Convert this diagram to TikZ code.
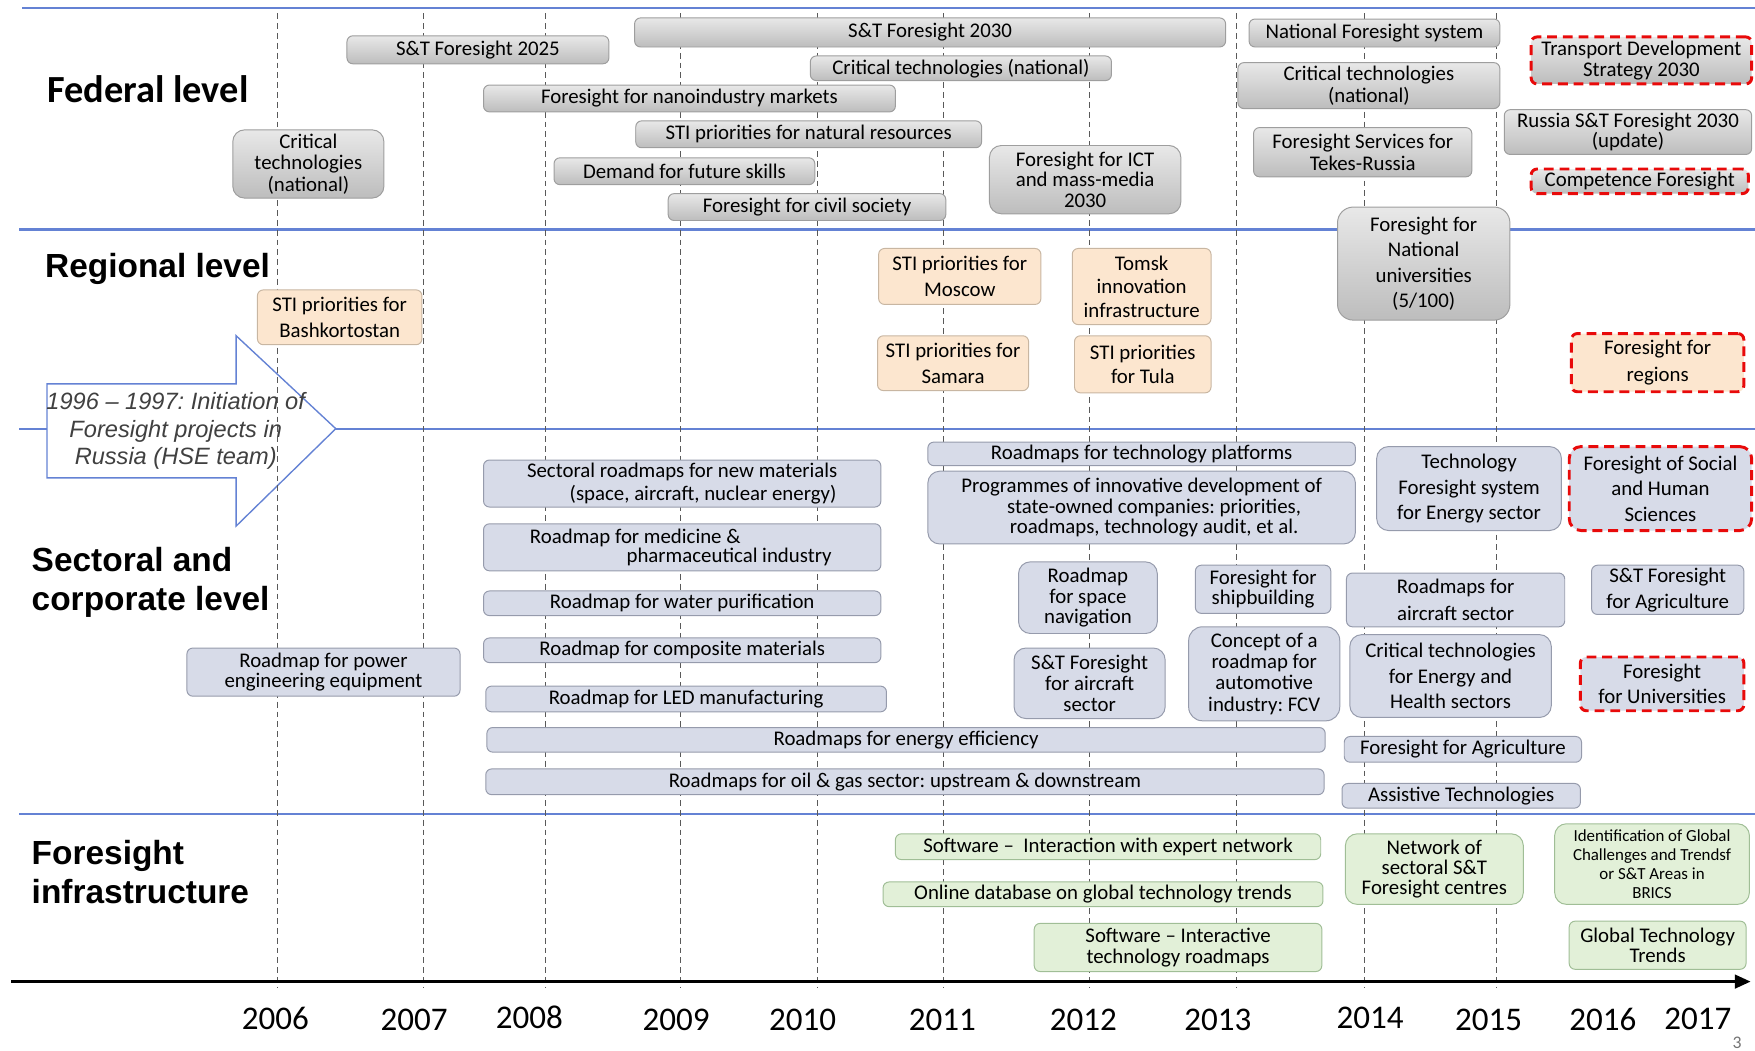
\documentclass[tikz,border=0pt]{standalone}
\usepackage{fontspec}
\setmainfont{Carlito}
\newfontfamily\arialf[Ligatures=TeX]{Liberation Sans}
\usetikzlibrary{arrows.meta}
\frenchspacing
\definecolor{lineblue}{RGB}{100,130,212}
\definecolor{regfill}{RGB}{252,230,207}
\definecolor{regdraw}{RGB}{200,182,162}
\definecolor{secfill}{RGB}{215,219,232}
\definecolor{secdraw}{RGB}{150,155,172}
\definecolor{inffill}{RGB}{226,240,216}
\definecolor{infdraw}{RGB}{160,190,150}
\definecolor{futred}{RGB}{232,10,10}
\newcommand\fs[1]{\fontsize{10.6}{#1}\selectfont}
\newcommand\bx[7]{\node[#1, minimum width={(#4-#2)*0.02cm}, minimum height={(#5-#3)*0.02cm}] (#6) at ({(#2+#4)/2},{(#3+#5)/2}) {#7};}
\tikzset{
  base/.style={inner sep=0pt, align=center, rounded corners=3pt, line width=0.5pt, font=\fs{11}},
  fed/.style={base, draw=black!38, top color=black!9, bottom color=black!26},
  reg/.style={base, draw=regdraw, fill=regfill},
  sec/.style={base, draw=secdraw, fill=secfill},
  inf/.style={base, draw=infdraw, fill=inffill},
  future/.style={draw=futred, line width=1.5pt, dash pattern=on 5pt off 3pt},
  sepline/.style={lineblue, line width=1.1pt},
  yearline/.style={black!65, line width=0.45pt, dash pattern=on 3pt off 2pt},
  heading/.style={anchor=west, align=left, inner sep=0pt, font=\arialf\bfseries\fontsize{17}{19.8}\selectfont},
  yearlbl/.style={font=\fontsize{16.8}{17}\selectfont}
}
\begin{document}
\begin{tikzpicture}[x=0.02cm, y=-0.02cm]
\useasboundingbox (0,0) rectangle (1568,939);
% separator lines
\coordinate (l1a) at (20,7);   \coordinate (l1b) at (1568,7);
\coordinate (l2a) at (17,205); \coordinate (l2b) at (1568,205);
\coordinate (l3a) at (17,383); \coordinate (l3b) at (1568,383);
\coordinate (l4a) at (17,727); \coordinate (l4b) at (1568,727);
\draw[sepline] (l1a) -- (l1b);
\draw[sepline] (l2a) -- (l2b);
\draw[sepline] (l3a) -- (l3b);
\draw[sepline] (l4a) -- (l4b);
% initiation arrow
\draw[lineblue, line width=0.7pt, fill=white] (42,343) -- (211,343) -- (211,300) -- (300,383) -- (211,470) -- (211,427) -- (42,427) -- cycle;
\node[align=center, text=black!75, font=\arialf\itshape\fontsize{12}{14.2}\selectfont] (init) at (157,385) {1996 – 1997: Initiation of\\Foresight projects in\\Russia (HSE team)};
% year lines
\foreach \xx in {248,378,487,608,730,843,973,1105,1219,1337}
  \draw[yearline] (\xx,12) -- (\xx,882);
% axis
\coordinate (axL) at (10,877); \coordinate (axR) at (1564,877);
\draw[black, line width=1.2pt, -{Triangle[length=8pt,width=7pt]}] (axL) -- (axR);
% years
\node[yearlbl] (y06) at (246,910) {2006};
\node[yearlbl] (y07) at (370,911) {2007};
\node[yearlbl] (y08) at (473,909) {2008};
\node[yearlbl] (y09) at (604,911) {2009};
\node[yearlbl] (y10) at (717,911) {2010};
\node[yearlbl] (y11) at (842,911) {2011};
\node[yearlbl] (y12) at (968,911) {2012};
\node[yearlbl] (y13) at (1088,911) {2013};
\node[yearlbl] (y14) at (1224,909) {2014};
\node[yearlbl] (y15) at (1330,911) {2015};
\node[yearlbl] (y16) at (1432,911) {2016};
\node[yearlbl] (y17) at (1517,910) {2017};
\node[text=black!55, font=\fontsize{9}{10}\selectfont] (pg) at (1552,932) {3};
% headings
\node[anchor=west, inner sep=0pt, font=\bfseries\fontsize{19.5}{20}\selectfont] (hfed) at (42,80) {Federal level};
\node[heading] (hreg) at (40,240) {Regional level};
\node[heading] (hsec) at (28,520) {Sectoral and\\corporate level};
\node[heading] (hinf) at (28,779) {Foresight\\infrastructure};
% federal
\bx{fed}{310}{32}{544}{57}{f1}{S\&T Foresight 2025}
\bx{fed}{567}{16}{1095}{42}{f2}{S\&T Foresight 2030}
\bx{fed}{724}{50}{993}{72}{f3}{Critical technologies (national)}
\bx{fed}{432}{76}{800}{100}{f4}{Foresight for nanoindustry markets}
\bx{fed}{568}{108}{877}{132}{f5}{STI priorities for natural resources}
\bx{fed}{495}{141}{728}{165}{f6}{Demand for future skills}
\bx{fed}{597}{173}{845}{197}{f7}{Foresight for civil society}
\bx{fed, rounded corners=6pt, font=\fs{10.8}}{208}{116}{343}{177}{f8}{Critical\\technologies\\(national)}
\bx{fed, rounded corners=6pt, font=\fs{10.3}}{884}{130}{1055}{191}{f9}{Foresight for ICT\\and mass-media\\2030}
\bx{fed}{1116}{17}{1340}{42}{f10}{National Foresight system}
\bx{fed, font=\fs{11.3}}{1106}{56}{1340}{97}{f11}{Critical technologies\\(national)}
\bx{fed, font=\fs{11.3}}{1120}{114}{1315}{158}{f12}{Foresight Services for\\Tekes-Russia}
\bx{fed, future, font=\fs{11}}{1368}{33}{1565}{75}{f13}{Transport Development\\Strategy 2030}
\bx{fed, font=\fs{10.3}}{1344}{98}{1565}{138}{f14}{Russia S\&T Foresight 2030\\(update)}
\bx{fed, future}{1368}{151}{1562}{173}{f15}{Competence Foresight}
\bx{fed, rounded corners=8pt, font=\fs{13}}{1195}{185}{1349}{286}{f16}{Foresight for\\National\\universities\\(5/100)}
% regional
\bx{reg, font=\fs{13.6}}{230}{259}{377}{308}{r1}{STI priorities for\\Bashkortostan}
\bx{reg, font=\fs{13}}{785}{222}{930}{272}{r2}{STI priorities for\\Moscow}
\bx{reg, font=\fs{12}}{958}{222}{1082}{290}{r3}{Tomsk\\innovation\\infrastructure}
\bx{reg, font=\fs{13}}{784}{300}{919}{349}{r4}{STI priorities for\\Samara}
\bx{reg, font=\fs{12}}{960}{300}{1082}{351}{r5}{STI priorities\\for Tula}
\bx{reg, future, font=\fs{13.6}}{1404}{298}{1558}{350}{r6}{Foresight for\\regions}
% sectoral
\bx{sec, font=\fs{11.3}}{432}{411}{787}{453}{s1}{Sectoral roadmaps for new materials\\\hspace*{2em}(space, aircraft, nuclear energy)}
\bx{sec, font=\fs{9.8}}{432}{468}{787}{510}{s2}{Roadmap for medicine \&\hspace*{4.5em}\\\hspace*{4.5em}pharmaceutical industry}
\bx{sec}{432}{528}{787}{550}{s3}{Roadmap for water purification}
\bx{sec}{432}{570}{787}{592}{s4}{Roadmap for composite materials}
\bx{sec}{434}{613}{792}{636}{s5}{Roadmap for LED manufacturing}
\bx{sec}{435}{650}{1184}{672}{s6}{Roadmaps for energy efficiency}
\bx{sec}{434}{687}{1183}{710}{s7}{Roadmaps for oil \& gas sector: upstream \& downstream}
\bx{sec, font=\fs{9.8}}{167}{579}{411}{622}{s8}{Roadmap for power\\engineering equipment}
\bx{sec}{829}{395}{1211}{416}{s9}{Roadmaps for technology platforms}
\bx{sec, rounded corners=6pt, font=\fs{10.5}}{829}{421}{1211}{486}{s10}{Programmes of innovative development of\\\hspace*{1.2em}state-owned companies: priorities,\\\hspace*{1.2em}roadmaps, technology audit, et al.}
\bx{sec, rounded corners=6pt, font=\fs{13}}{1230}{399}{1395}{474}{s11}{Technology\\Foresight system\\for Energy sector}
\bx{sec, future, rounded corners=6pt, font=\fs{13}}{1402}{399}{1565}{474}{s12}{Foresight of Social\\and Human\\Sciences}
\bx{sec, rounded corners=6pt, font=\fs{10.5}}{910}{502}{1034}{566}{s13}{Roadmap\\for space\\navigation}
\bx{sec, font=\fs{10.3}}{1068}{505}{1189}{548}{s14}{Foresight for\\shipbuilding}
\bx{sec, font=\fs{14}}{1203}{512}{1398}{560}{s15}{Roadmaps for\\aircraft sector}
\bx{sec, font=\fs{13}}{1422}{505}{1558}{549}{s16}{S\&T Foresight\\for Agriculture}
\bx{sec, rounded corners=6pt, font=\fs{10.5}}{906}{579}{1041}{642}{s17}{S\&T Foresight\\for aircraft\\sector}
\bx{sec, rounded corners=7pt, font=\fs{10.8}}{1062}{560}{1197}{644}{s18}{Concept of a\\roadmap for\\automotive\\industry: FCV}
\bx{sec, rounded corners=6pt, font=\fs{13}}{1206}{567}{1386}{641}{s19}{Critical technologies\\for Energy and\\Health sectors}
\bx{sec, future, font=\fs{13}}{1412}{587}{1558}{635}{s20}{Foresight\\for Universities}
\bx{sec}{1201}{658}{1413}{681}{s21}{Foresight for Agriculture}
\bx{sec}{1199}{700}{1412}{722}{s22}{Assistive Technologies}
% infrastructure
\bx{inf}{800}{745}{1180}{768}{i1}{Software --\ \ Interaction with expert network}
\bx{inf}{789}{788}{1182}{810}{i2}{Online database on global technology trends}
\bx{inf, font=\fs{10.8}}{924}{825}{1181}{868}{i3}{Software -- Interactive\\technology roadmaps}
\bx{inf, rounded corners=6pt, font=\fs{10.3}}{1202}{745}{1361}{808}{i4}{Network of\\sectoral S\&T\\Foresight centres}
\bx{inf, rounded corners=6pt, font=\fontsize{8.6}{9.6}\selectfont}{1389}{736}{1563}{808}{i5}{Identification of Global\\Challenges and Trendsf\\or S\&T Areas in\\BRICS}
\bx{inf, font=\fs{10.3}}{1402}{823}{1560}{866}{i6}{Global Technology\\Trends}
\end{tikzpicture}
\end{document}
